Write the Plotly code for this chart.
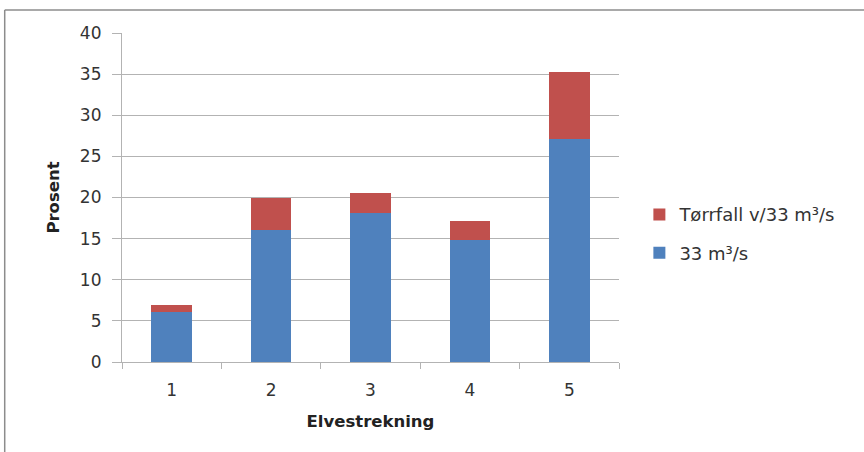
import plotly.graph_objects as go

# River reaches and stacked shares (percent)
reaches = ["1", "2", "3", "4", "5"]
base_33 = [6.1, 16.0, 18.1, 14.8, 27.1]        # 33 m³/s
dry_extra = [0.8, 4.0, 2.4, 2.4, 8.2]          # Tørrfall v/33 m³/s
y_ticks = [0, 5, 10, 15, 20, 25, 30, 35, 40]

blue = "#4F81BD"
red = "#C0504D"
grid = "#B3B3B3"
font_family = "DejaVu Sans, sans-serif"

fig = go.Figure()
fig.add_trace(go.Bar(x=reaches, y=base_33, name="33 m³/s",
                     marker=dict(color=blue, line=dict(width=0)),
                     legendgroup="a", legendrank=2))
fig.add_trace(go.Bar(x=reaches, y=dry_extra, name="Tørrfall v/33 m³/s",
                     marker=dict(color=red, line=dict(width=0)),
                     legendgroup="b", legendrank=1))

fig.update_layout(
    width=864, height=452,
    margin=dict(l=122, r=245, t=33, b=90),
    barmode="stack",
    bargap=0.59,
    plot_bgcolor="white",
    paper_bgcolor="white",
    font=dict(family=font_family, color="#333333", size=16),
    showlegend=True,
    legend=dict(
        x=1.041, y=0.39, xanchor="left", yanchor="middle",
        traceorder="grouped", tracegroupgap=12,
        font=dict(size=18, color="#333333"),
        bgcolor="rgba(0,0,0,0)",
        itemwidth=30,
    ),
    shapes=[
        # outer chart frame (top and left edges)
        dict(type="line", xref="paper", yref="paper",
             x0=-0.236, x1=1.6, y0=1.07, y1=1.07,
             line=dict(color="#8C8C8C", width=1.5)),
        dict(type="line", xref="paper", yref="paper",
             x0=-0.236, x1=-0.236, y0=1.07, y1=-0.4,
             line=dict(color="#8C8C8C", width=1.5)),
    ],
)

fig.update_yaxes(
    range=[0, 40], tickvals=y_ticks,
    showgrid=True, gridcolor=grid, gridwidth=1.2,
    showline=True, linecolor=grid, linewidth=1.2,
    ticks="outside", ticklen=9, tickcolor=grid, tickwidth=1.2,
    ticklabelstandoff=7,
    tickfont=dict(size=17, color="#333333"),
    zeroline=False,
    title=dict(text="<b>Prosent</b>", font=dict(size=16.5, color="#222222"), standoff=16),
)
fig.update_xaxes(
    type="category",
    showline=True, linecolor=grid, linewidth=1.2,
    ticks="outside", tickson="boundaries", ticklen=6, tickcolor=grid, tickwidth=1.2,
    ticklabelstandoff=12,
    tickfont=dict(size=17, color="#333333"),
    title=dict(text="<b>Elvestrekning</b>", font=dict(size=16.5, color="#222222"), standoff=16),
)

fig.write_html("out.html")
